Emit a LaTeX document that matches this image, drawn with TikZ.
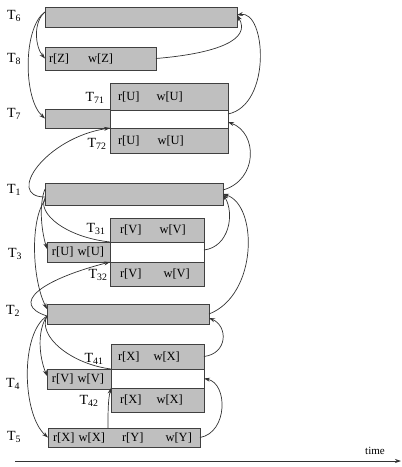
\documentclass[tikz,border=0pt]{standalone}
\usepackage{fontspec}
\setmainfont{Liberation Serif}
\usetikzlibrary{arrows.meta}

\begin{document}
\begin{tikzpicture}[x=1pt, y=-1pt,
		tbox/.style={draw=black!75, line width=1pt, fill=gray!50, anchor=north west,
				inner ysep=0pt, outer sep=0pt, align=left, font=\fontsize{12.5}{14}\selectfont},
		hole/.style={tbox, fill=white},
		tname/.style={inner sep=0pt, font=\fontsize{14}{16}\selectfont},
		link/.style={draw=black!80, line width=0.7pt},
		arc/.style={link, -{Stealth[length=6pt, width=4pt]}},
	]
	\useasboundingbox (0,0) rectangle (402,467);

	% T6, T8, T7
	\node (t6)  [tbox, minimum width=192pt, minimum height=20pt] at (45,7) {};
	\node (t8)  [tbox, minimum width=111pt, minimum height=23pt, inner xsep=4pt, text width=103pt] at (45,47) {r[Z]\hspace{19pt}w[Z]};
	\node (t7)  [tbox, minimum width=65pt, minimum height=19pt] at (45,109) {};
	\node (t71) [tbox, minimum width=118pt, minimum height=27pt, inner xsep=8pt, text width=102pt] at (110,83) {r[U]\hspace{17pt}w[U]};
	\node (t7m) [hole, minimum width=118pt, minimum height=18pt] at (110,110) {};
	\node (t72) [tbox, minimum width=118pt, minimum height=25pt, inner xsep=8pt, text width=102pt] at (110,128) {r[U]\hspace{18pt}w[U]};

	% T1, T3
	\node (t1)  [tbox, minimum width=178pt, minimum height=22pt] at (45,183) {};
	\node (t31) [tbox, minimum width=94pt, minimum height=24pt, inner xsep=10pt, text width=74pt] at (110,218) {r[V]\hspace{18pt}w[V]};
	\node (t3m) [hole, minimum width=94pt, minimum height=20pt] at (110,242) {};
	\node (t32) [tbox, minimum width=94pt, minimum height=24pt, inner xsep=10pt, text width=74pt] at (110,262) {r[V]\hspace{22pt}w[V]};
	\node (t3)  [tbox, minimum width=63pt, minimum height=20pt, inner xsep=5pt, text width=53pt] at (47,242) {r[U] w[U]};

	% T2, T4, T5
	\node (t2)  [tbox, minimum width=162pt, minimum height=20pt] at (47,304) {};
	\node (t41) [tbox, minimum width=93pt, minimum height=25pt, inner xsep=7pt, text width=79pt] at (111,344) {r[X]\hspace{14pt}w[X]};
	\node (t4m) [hole, minimum width=93pt, minimum height=19pt] at (111,369) {};
	\node (t42) [tbox, minimum width=93pt, minimum height=24pt, inner xsep=9pt, text width=75pt] at (111,388) {r[X]\hspace{15pt}w[X]};
	\node (t4)  [tbox, minimum width=64pt, minimum height=20pt, inner xsep=5pt, text width=54pt] at (47,369) {r[V] w[V]};
	\node (t5)  [tbox, minimum width=152pt, minimum height=19pt, inner xsep=5pt, text width=142pt] at (48,428) {r[X] w[X]\hspace{17pt}r[Y]\hspace{22pt}w[Y]};

	% names
	\node (n6)  [tname] at (14,16)  {T\textsubscript{6}};
	\node (n8)  [tname] at (14,59)  {T\textsubscript{8}};
	\node (n7)  [tname] at (14,114) {T\textsubscript{7}};
	\node (n71) [tname] at (95,98)  {T\textsubscript{71}};
	\node (n72) [tname] at (97,144) {T\textsubscript{72}};
	\node (n1)  [tname] at (14,190) {T\textsubscript{1}};
	\node (n3)  [tname] at (15,254) {T\textsubscript{3}};
	\node (n31) [tname] at (96,229) {T\textsubscript{31}};
	\node (n32) [tname] at (98,275) {T\textsubscript{32}};
	\node (n2)  [tname] at (13,311) {T\textsubscript{2}};
	\node (n41) [tname] at (94,359) {T\textsubscript{41}};
	\node (n4)  [tname] at (13,384) {T\textsubscript{4}};
	\node (n42) [tname] at (89,401) {T\textsubscript{42}};
	\node (n5)  [tname] at (14,437) {T\textsubscript{5}};

	% left side
	\draw [arc] ([yshift=5pt]t6.west) .. controls +(-12,10) and +(-10,-12) .. (t8.west);
	\draw [arc] ([yshift=5pt]t6.west) .. controls +(-22,15) and +(-22,-20) .. (t7.west);
	\draw [arc] ([yshift=-3pt]t1.west) .. controls +(-40,0) and +(-65,10) .. (t72.north west);
	\draw [arc] ([yshift=5pt]t1.west) .. controls +(-6,15) and +(-6,-20) .. ([yshift=3pt]t3.west);
	\draw [link] ([yshift=-4pt]t1.west) .. controls +(-8,15) and +(-45,-5) .. (t31.south west);
	\draw [arc] ([yshift=-6pt]t1.west) .. controls +(-15,20) and +(-15,-30) .. ([yshift=5pt]t2.west);
	\draw [arc] ([yshift=-2pt]t2.west) .. controls +(-37,-12) and +(-70,18) .. (t32.north west);
	\draw [arc] ([yshift=-2pt]t2.west) .. controls +(-10,15) and +(-8,-20) .. ([yshift=3pt]t4.west);
	\draw [link] ([yshift=-2pt]t2.west) .. controls +(-10,20) and +(-40,-5) .. (t41.south west);
	\draw [arc] ([yshift=-2pt]t2.west) .. controls +(-27,17) and +(-26,-23) .. (t5.west);
	\draw [arc] ([xshift=60pt]t5.north west) .. controls +(0,-15) and +(-3,12) .. (t42.north west);

	% right side
	\draw [arc] (t8.east) .. controls +(60,-5) and +(15,25) .. ([yshift=2pt]t6.east);
	\draw [arc] ([yshift=5pt]t7m.east) .. controls +(44,-9) and +(29,-5) .. ([yshift=2pt]t6.east);
	\draw [arc] ([yshift=4pt]t1.east) .. controls +(35,-10) and +(30,11) .. ([yshift=-3pt]t7m.east);
	\draw [arc] ([yshift=2pt]t3m.east) .. controls +(25,-3) and +(12,20) .. (t1.east);
	\draw [arc] (t2.east) .. controls +(49,-19) and +(35,11) .. (t1.east);
	\draw [arc] (t41.east) .. controls +(24,-3) and +(19,8) .. ([yshift=-4pt]t2.east);
	\draw [arc] (t5.east) .. controls +(28,-5) and +(24,5) .. (t4m.east);

	% time axis
	\coordinate (t0) at (15,461);
	\coordinate (t9) at (401,461);
	\draw [arc] (t0) -- (t9);
	\node (tm) [inner sep=0pt, font=\fontsize{11}{12}\selectfont] at (375,451) {time};
\end{tikzpicture}
\end{document}
